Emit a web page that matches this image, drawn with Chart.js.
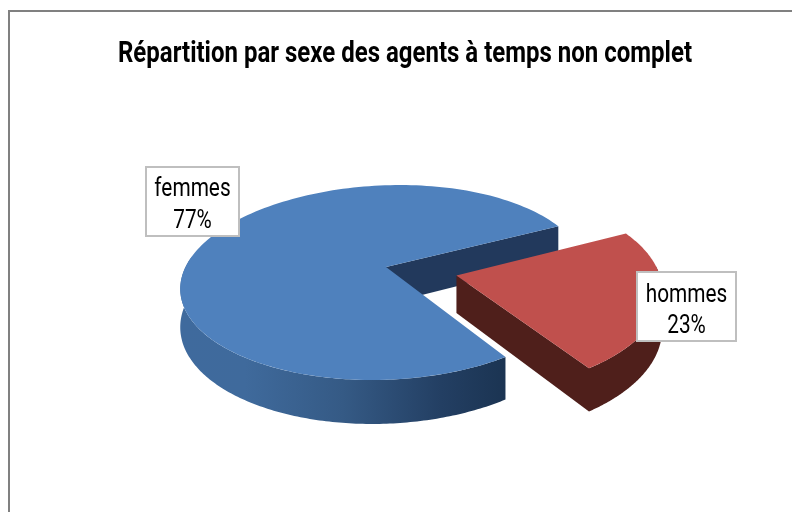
<!DOCTYPE html>
<html><head><meta charset="utf-8">
<style>html,body{margin:0;padding:0;background:#fff}#w{position:relative;width:792px;height:512px}</style>
<script src="https://cdn.jsdelivr.net/npm/chart.js@4"></script></head>
<body><div id="w"><canvas id="c" width="792" height="512"></canvas></div>
<script>
const chartTitle = "Répartition par sexe des agents à temps non complet";
const categories = ["femmes", "hommes"];
const shares = [77, 23];
const sliceColors = ["#4f81bd", "#c0504d"];
const explode = [0, 63];
const textFamily = '"Roboto","Liberation Sans",sans-serif';

// Perspective view of the pie disc
const view = {cx: 386, cy: 267, rx: 200.5, ry: 95, k: 0.159, shear: 14, depth: 37};
function project(u, v, d) {
  const s = 1 / (1 - view.k * v);
  return [view.cx + view.rx * u * s - view.shear * v, view.cy + (view.ry * v + d * view.depth) * s];
}
const labelBoxes = [
  {i: 0, x: 146, y: 167, w: 93, h: 69, t1: 22, t2: 54},
  {i: 1, x: 637, y: 272, w: 99, h: 69, t1: 23, t2: 54}
];
const titleFit = {x: 405, sx: 0.8};
const labelFit = {size: 26, sx: 0.8};

const pie3d = {
  id: 'pie3d',
  beforeDraw(chart) {
    const tb = chart.titleBlock;
    if (tb && !tb._fit) {
      const draw = tb.draw.bind(tb);
      tb.draw = function (area) {
        const ctx = chart.ctx;
        ctx.save();
        ctx.translate(titleFit.x, 0); ctx.scale(titleFit.sx, 1); ctx.translate(-chart.width / 2, 0);
        draw(area);
        ctx.restore();
      };
      tb._fit = true;
    }
  },
  beforeDatasetsDraw(chart) {
    const ctx = chart.ctx;
    const arcs = chart.getDatasetMeta(0).data;
    const R = arcs[0].outerRadius;
    const geom = arcs.map((a, i) => {
      const mid = (a.startAngle + a.endAngle) / 2;
      const e = explode[i] / R;
      return {a0: a.startAngle, a1: a.endAngle, ox: Math.cos(mid) * e, oy: Math.sin(mid) * e};
    });
    const rim = (g, a, d) => project(g.ox + Math.cos(a), g.oy + Math.sin(a), d);
    const apex = (g, d) => project(g.ox, g.oy, d);
    const poly = (pts, fill) => {
      ctx.beginPath();
      pts.forEach((p, n) => n ? ctx.lineTo(p[0], p[1]) : ctx.moveTo(p[0], p[1]));
      ctx.closePath();
      ctx.fillStyle = fill; ctx.fill();
    };
    const sweep = (g, from, to, d) => {
      const out = [], n = 160;
      for (let j = 0; j <= n; j++) out.push(rim(g, from + (to - from) * j / n, d));
      return out;
    };
    const outerWall = (g, fill) => {
      const step = Math.PI / 180; let lo = null, hi = null;
      for (let a = g.a0; a <= g.a1 + 1e-6; a += step) {
        if (Math.sin(a) >= -0.1) { if (lo === null) lo = a; hi = a; }
      }
      hi = Math.min(g.a1, hi + step);
      poly(sweep(g, lo, hi, 0).concat(sweep(g, hi, lo, 1)), fill);
    };
    // femmes: a1 cut face shows at the back, a0 side is hidden
    let g = geom[0];
    poly([apex(g, 0), rim(g, g.a1, 0), rim(g, g.a1, 1), apex(g, 1)], '#22395c');
    const grad = ctx.createLinearGradient(180, 0, 506, 0);
    grad.addColorStop(0, '#3f6a9d');
    grad.addColorStop(0.2, '#3f6a9c');
    grad.addColorStop(0.5, '#355a85');
    grad.addColorStop(0.8, '#233f63');
    grad.addColorStop(1, '#1b3452');
    outerWall(g, grad);
    poly([apex(g, 0)].concat(sweep(g, g.a0, g.a1, 0)), sliceColors[0]);
    // hommes: front cut face is the a1 side
    g = geom[1];
    poly([apex(g, 0), rim(g, g.a1, 0), rim(g, g.a1, 1), apex(g, 1)], '#4f1f1b');
    outerWall(g, '#4f1f1b');
    poly([apex(g, 0)].concat(sweep(g, g.a0, g.a1, 0)), sliceColors[1]);
    return false;
  },
  afterDraw(chart) {
    const ctx = chart.ctx;
    ctx.save();
    ctx.strokeStyle = '#808080'; ctx.lineWidth = 2;
    ctx.beginPath(); ctx.moveTo(9, 512); ctx.lineTo(9, 11); ctx.lineTo(792, 11); ctx.stroke();
    labelBoxes.forEach(b => {
      ctx.fillStyle = '#fff'; ctx.fillRect(b.x, b.y, b.w, b.h);
      ctx.strokeStyle = '#bfbfbf'; ctx.lineWidth = 2; ctx.strokeRect(b.x, b.y, b.w, b.h);
      ctx.fillStyle = '#000'; ctx.font = labelFit.size + 'px ' + textFamily;
      ctx.textAlign = 'center'; ctx.textBaseline = 'middle';
      ctx.save();
      ctx.translate(b.x + b.w / 2, b.y); ctx.scale(labelFit.sx, 1);
      ctx.fillText(categories[b.i], 0, b.t1);
      ctx.fillText(shares[b.i] + '%', 0, b.t2);
      ctx.restore();
    });
    ctx.restore();
  }
};

new Chart(document.getElementById('c'), {
  type: 'pie',
  data: {labels: categories, datasets: [{data: shares, backgroundColor: sliceColors, offset: explode, borderWidth: 0}]},
  options: {
    responsive: false, animation: false, rotation: 145.4,
    layout: {padding: {top: 20, bottom: 30, left: 10, right: 10}},
    plugins: {
      legend: {display: false}, tooltip: {enabled: false},
      title: {display: true, text: chartTitle, color: '#000', padding: {top: 16, bottom: 0},
        font: {family: textFamily, size: 30, weight: 'bold'}}
    }
  },
  plugins: [pie3d]
});
</script></body></html>
